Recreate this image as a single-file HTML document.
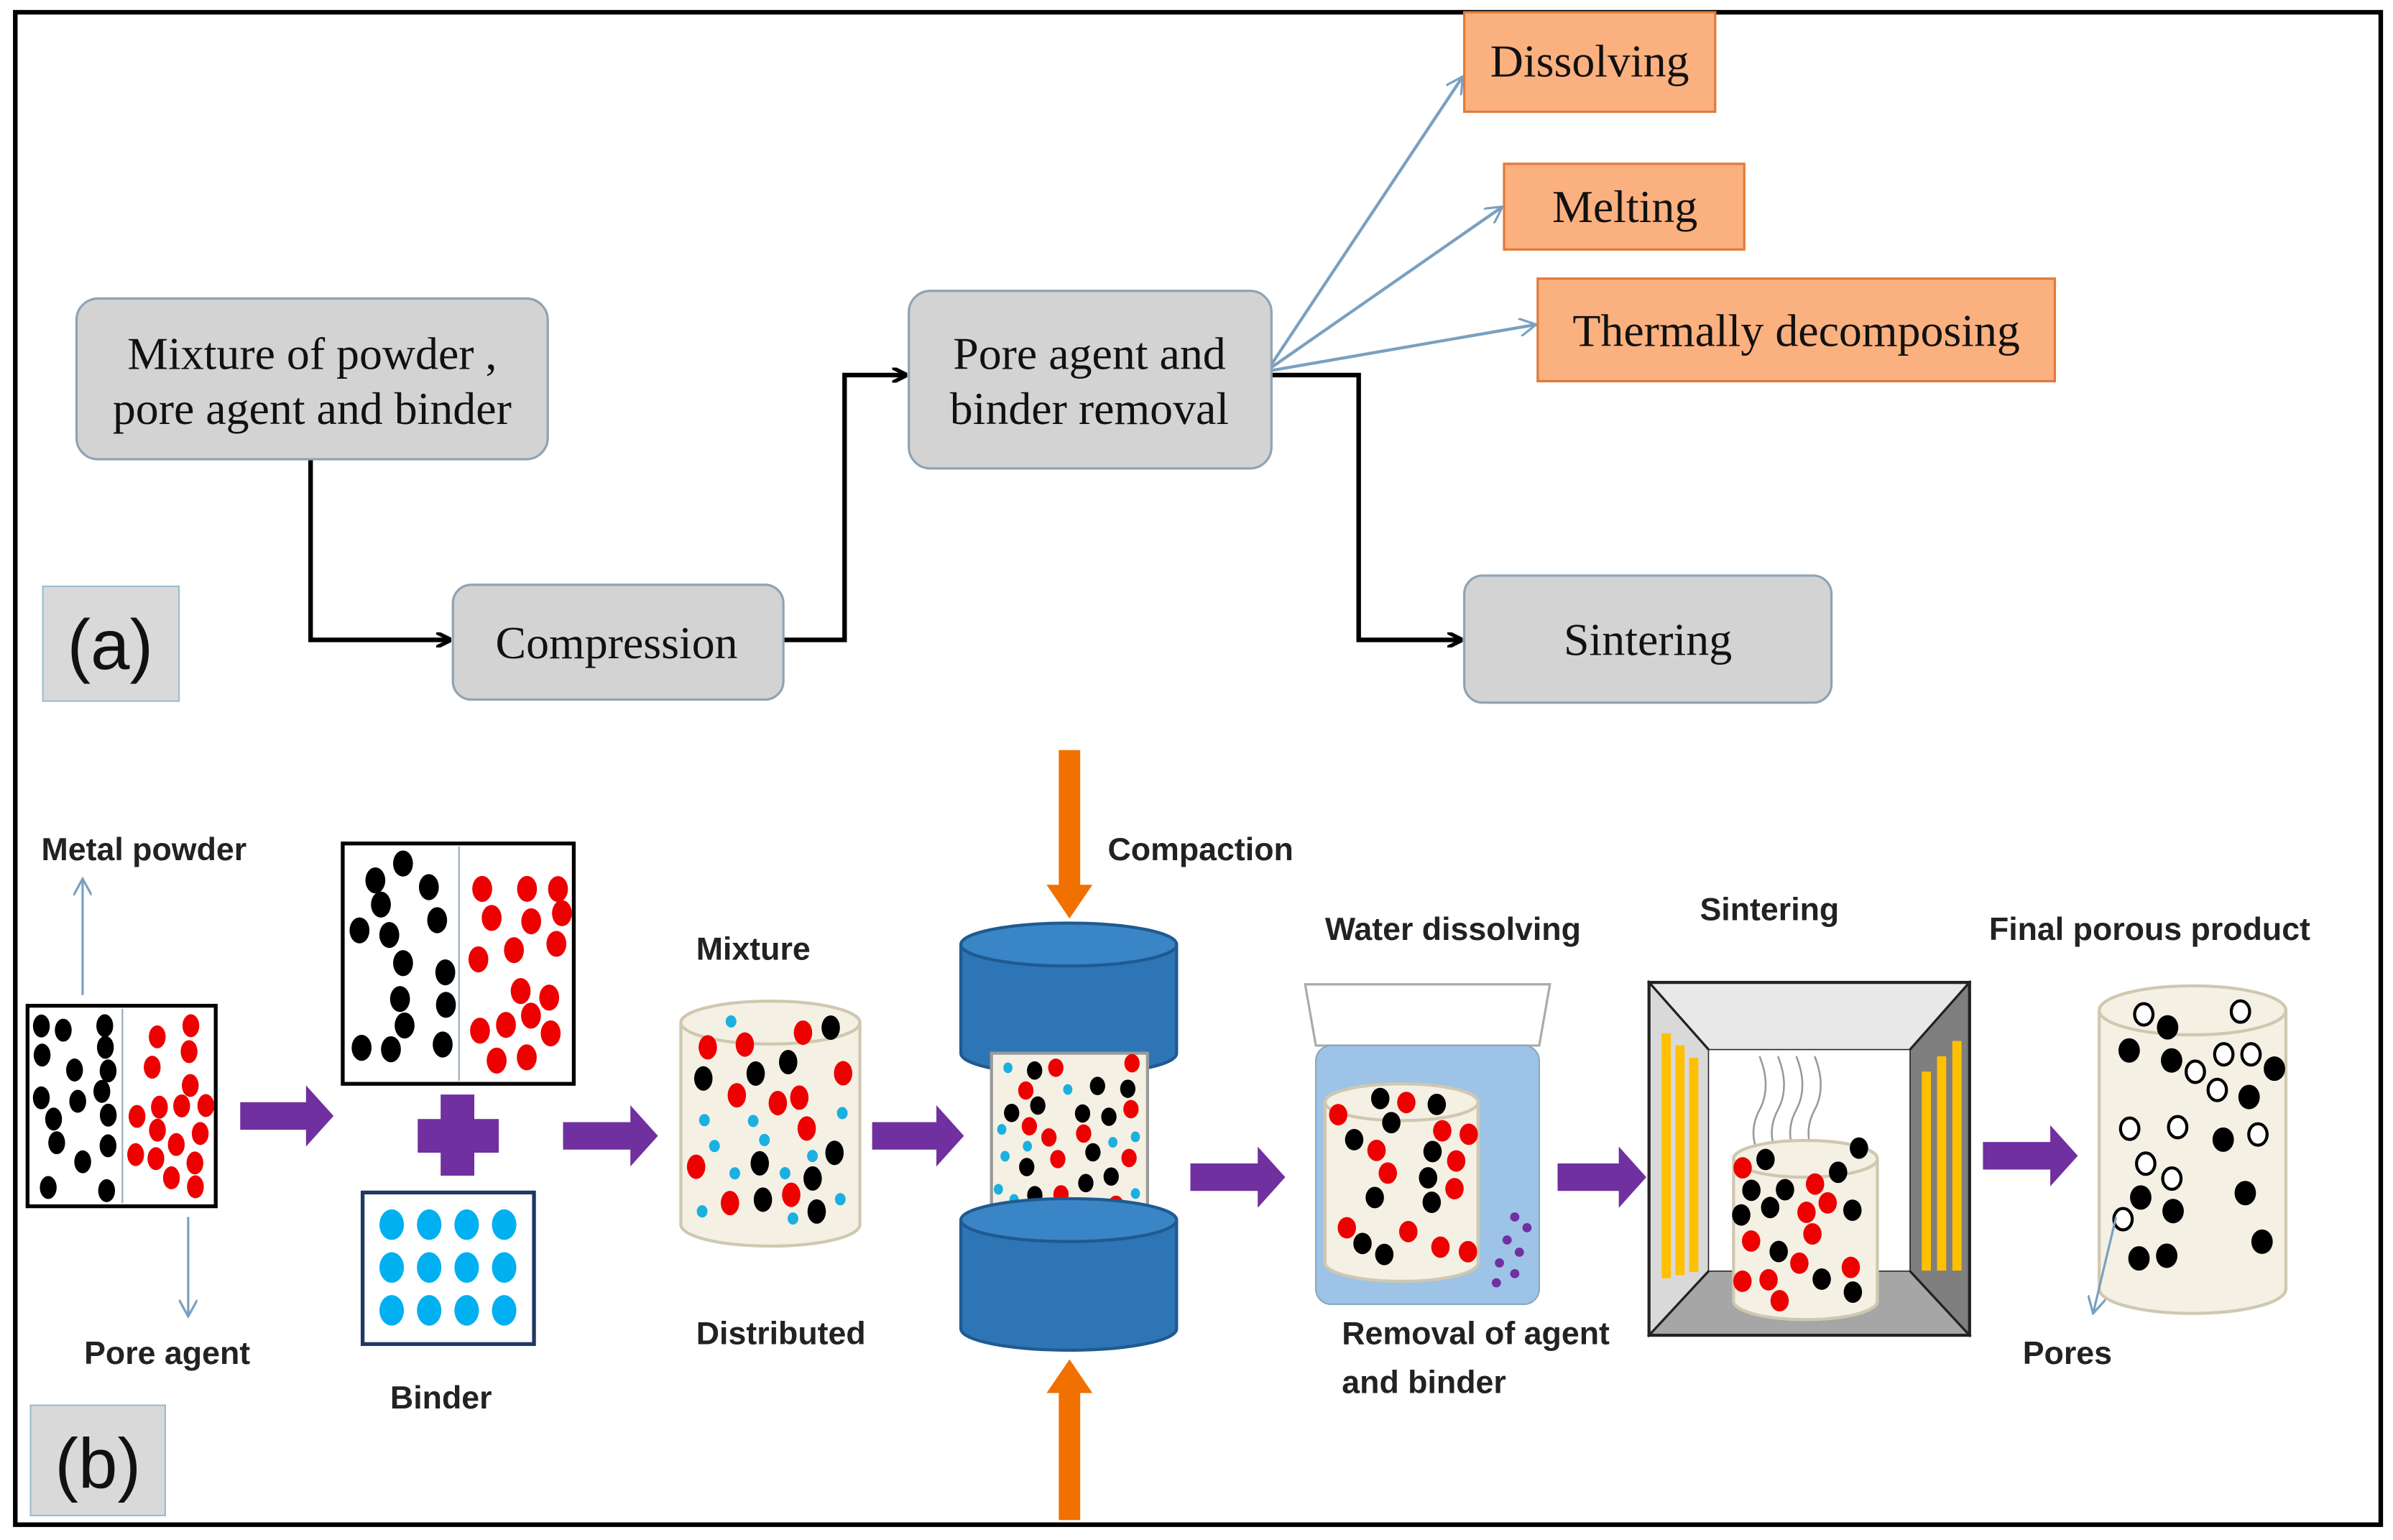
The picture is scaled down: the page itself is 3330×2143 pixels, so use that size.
<!DOCTYPE html>
<html><head><meta charset="utf-8"><style>
html,body{margin:0;padding:0;background:#fff}
svg{display:block}
.s{font-family:"Liberation Serif",serif;font-size:30px;fill:#111}
.b{font-family:"Liberation Sans",sans-serif;font-weight:bold;font-size:21px;fill:#222}
.l{font-family:"Liberation Sans",sans-serif;font-size:46px;fill:#111}
</style></head><body>
<svg id="sv" width="3330" height="2143" viewBox="0 0 1564 1006" preserveAspectRatio="none" xmlns="http://www.w3.org/2000/svg">
<defs>
<marker id="ab" markerWidth="10" markerHeight="10" refX="9" refY="5" orient="auto" markerUnits="userSpaceOnUse"><path d="M0,0 L10,5 L0,10" fill="none" stroke="#000" stroke-width="2.5"/></marker>
<marker id="bl" markerWidth="12" markerHeight="12" refX="11" refY="6" orient="auto" markerUnits="userSpaceOnUse"><path d="M0,0 L11,6 L0,12" fill="none" stroke="#7aa0c0" stroke-width="1.5"/></marker>
</defs>
<rect x="10" y="8" width="1546" height="988" fill="#fff" stroke="#000" stroke-width="3"/>
<g stroke="#000" stroke-width="3" fill="none">
<path d="M203,300 V418 H294" marker-end="url(#ab)"/>
<path d="M512,418 H552 V245 H592" marker-end="url(#ab)"/>
<path d="M831,245 H888 V418 H955" marker-end="url(#ab)"/>
</g>
<g stroke="#7aa0c0" stroke-width="2" fill="none">
<path d="M831,238 L956,50" marker-end="url(#bl)"/>
<path d="M831,240 L982,135" marker-end="url(#bl)"/>
<path d="M831,242 L1004,212" marker-end="url(#bl)"/>
</g>
<g fill="#d3d3d3" stroke="#8fa3b3" stroke-width="1.5">
<rect x="50" y="195" width="308" height="105" rx="14"/>
<rect x="296" y="382" width="216" height="75" rx="12"/>
<rect x="594" y="190" width="237" height="116" rx="14"/>
<rect x="957" y="376" width="240" height="83" rx="12"/>
</g>
<g fill="#fbb07f" stroke="#e07a3a" stroke-width="1.5">
<rect x="957" y="8" width="164" height="65"/>
<rect x="983" y="107" width="157" height="56"/>
<rect x="1005" y="182" width="338" height="67"/>
</g>
<g class="s" text-anchor="middle">
<text x="204" y="241">Mixture of powder ,</text>
<text x="204" y="277">pore agent and binder</text>
<text x="403" y="430">Compression</text>
<text x="712" y="241">Pore agent and</text>
<text x="712" y="277">binder removal</text>
<text x="1077" y="428">Sintering</text>
<text x="1039" y="50">Dissolving</text>
<text x="1062" y="145">Melting</text>
<text x="1174" y="226">Thermally decomposing</text>
</g>
<rect x="28" y="383" width="89" height="75" fill="#d9d9d9" stroke="#9bbccc"/>
<text class="l" x="72" y="437" text-anchor="middle">(a)</text>
<rect x="20" y="918" width="88" height="72" fill="#d9d9d9" stroke="#9bbccc"/>
<text class="l" x="64" y="972" text-anchor="middle">(b)</text>
<g id="art"></g>
<g class="b">
<text x="27" y="562">Metal powder</text>
<text x="55" y="891">Pore agent</text>
<text x="255" y="920">Binder</text>
<text x="455" y="627">Mixture</text>
<text x="455" y="878">Distributed</text>
<text x="724" y="562">Compaction</text>
<text x="866" y="614">Water dissolving</text>
<text x="877" y="878">Removal of agent</text>
<text x="877" y="910">and binder</text>
<text x="1111" y="601">Sintering</text>
<text x="1300" y="614">Final porous product</text>
<text x="1322" y="891">Pores</text>
</g>
</svg>
<script>
var NS="http://www.w3.org/2000/svg",g=document.getElementById("art");
function el(t,a){var e=document.createElementNS(NS,t);for(var k in a)e.setAttribute(k,a[k]);g.appendChild(e);return e;}
var seed=11;function rnd(){seed=(seed*16807)%2147483647;return seed/2147483647;}
function dots(x0,y0,x1,y1,list,rx,ry){var pts=[];list.forEach(function(c){for(var t=0;t<300;t++){var x=x0+rnd()*(x1-x0),y=y0+rnd()*(y1-y0),ok=true;for(var i=0;i<pts.length;i++){var dx=x-pts[i][0],dy=y-pts[i][1];if(dx*dx+dy*dy<(rx*2.4)*(rx*2.4)){ok=false;break;}}if(ok){pts.push([x,y]);var r=c[1]||rx;var a={cx:x,cy:y,rx:r,ry:(c[2]||ry),fill:c[0]};if(c[0]=="none"){a.stroke="#000";a["stroke-width"]=2;a.fill="#fff";}el("ellipse",a);break;}}});}
function rep(c,n){var a=[];for(var i=0;i<n;i++)a.push(c);return a;}
function parrow(x0,x1,y){el("path",{d:"M"+x0+","+(y-9)+"H"+(x1-18)+"V"+(y-20)+"L"+x1+","+y+"L"+(x1-18)+","+(y+20)+"V"+(y+9)+"H"+x0+"Z",fill:"#7030a0"});}
function cyl(x0,x1,yt,yb,ry,fill,stroke,top){var cx=(x0+x1)/2,rx=(x1-x0)/2;el("path",{d:"M"+x0+","+yt+"V"+yb+"A"+rx+","+ry+" 0 0 0 "+x1+","+yb+"V"+yt,fill:fill,stroke:stroke,"stroke-width":2});el("ellipse",{cx:cx,cy:yt,rx:rx,ry:ry,fill:top||fill,stroke:stroke,"stroke-width":2});}
el("rect",{x:18,y:657,width:123,height:131,fill:"#fff",stroke:"#000","stroke-width":2.5});
el("line",{x1:80,y1:659,x2:80,y2:786,stroke:"#9ab","stroke-width":1});
dots(27,668,73,778,rep(["#000"],17),5.5,7.5);dots(88,668,135,778,rep(["#e00"],17),5.5,7.5);
el("line",{x1:54,y1:650,x2:54,y2:574,stroke:"#7aa0c0","stroke-width":1.5,"marker-end":"url(#bl)"});
el("line",{x1:123,y1:795,x2:123,y2:860,stroke:"#7aa0c0","stroke-width":1.5,"marker-end":"url(#bl)"});
el("rect",{x:224,y:551,width:151,height:157,fill:"#fff",stroke:"#000","stroke-width":2.5});
el("line",{x1:300,y1:553,x2:300,y2:706,stroke:"#9ab","stroke-width":1});
dots(234,564,292,698,rep(["#000"],15),6.5,8.5);dots(307,564,368,698,rep(["#e00"],17),6.5,8.5);
el("rect",{x:288,y:715,width:22,height:53,fill:"#7030a0"});el("rect",{x:273,y:731,width:53,height:22,fill:"#7030a0"});
el("rect",{x:237,y:779,width:112,height:99,fill:"#fff",stroke:"#1f3864","stroke-width":2.5});
for(var r=0;r<3;r++)for(var c=0;c<4;c++)el("ellipse",{cx:256+c*24.5,cy:800+r*28,rx:8,ry:10,fill:"#00b0f0"});
parrow(157,218,729);parrow(368,430,742);parrow(570,630,742);parrow(778,840,769);parrow(1018,1076,769);parrow(1296,1358,755);
cyl(445,562,668,800,14,"#f4f0e4","#cfc8b0");
dots(452,665,555,800,rep(["#000",6,8],9).concat(rep(["#e00",6,8],11)).concat(rep(["#1ab0e0",3.5,4],12)),6,8);
function bcyl(yt,yb){cyl(628,769,yt,yb,14,"#2e75b6","#1f5a90","#3a85c6");}
bcyl(617,688);
el("rect",{x:648,y:688,width:102,height:109,fill:"#f4f0e4",stroke:"#999","stroke-width":2});
dots(652,694,746,792,rep(["#000",5,6],12).concat(rep(["#e00",5,6],12)).concat(rep(["#1ab0e0",3,3.5],10)),5,6);
bcyl(797,868);
el("path",{d:"M692,490H706V578H714L699,600L684,578H692Z",fill:"#f07000"});
el("path",{d:"M692,993H706V910H714L699,888L684,910H692Z",fill:"#f07000"});
el("path",{d:"M853,643H1013L1006,683H860Z",fill:"#fff",stroke:"#aaa","stroke-width":1.5});
el("rect",{x:860,y:683,width:146,height:169,rx:10,fill:"#9dc3e6",stroke:"#8ab","stroke-width":1});
cyl(866,966,720,825,12,"#f4f0e4","#cfc8b0");
dots(872,716,960,825,rep(["#000",6,7],10).concat(rep(["#e00",6,7],12)),6,7);
[[990,795],[998,802],[985,810],[993,818],[980,825],[990,832],[978,838]].forEach(function(p){el("circle",{cx:p[0],cy:p[1],r:3,fill:"#7030a0"});});
el("rect",{x:1078,y:642,width:209,height:230,fill:"#bfbfbf",stroke:"#222","stroke-width":2.5});
el("path",{d:"M1078,642L1117,686H1248L1287,642Z",fill:"#e8e8e8",stroke:"#222","stroke-width":1.5});
el("path",{d:"M1078,872L1117,830H1248L1287,872Z",fill:"#a6a6a6",stroke:"#222","stroke-width":1.5});
el("path",{d:"M1078,642L1117,686V830L1078,872Z",fill:"#d9d9d9",stroke:"#222","stroke-width":1.5});
el("path",{d:"M1287,642L1248,686V830L1287,872Z",fill:"#7f7f7f",stroke:"#222","stroke-width":1.5});
el("rect",{x:1117,y:686,width:131,height:144,fill:"#fff"});
[1086,1095,1104].forEach(function(x,i){el("rect",{x:x,y:675+i*8,width:6,height:160-i*10,fill:"#ffc000"});});
[1256,1266,1276].forEach(function(x,i){el("rect",{x:x,y:700-i*10,width:6,height:130+i*10,fill:"#ffc000"});});
[1150,1162,1174,1186].forEach(function(x){el("path",{d:"M"+x+",755 q-8,-15 0,-30 q8,-15 0,-35",fill:"none",stroke:"#999","stroke-width":1.2});});
cyl(1133,1227,757,850,12,"#f4f0e4","#cfc8b0");
dots(1138,750,1222,850,rep(["#000",6,7],11).concat(rep(["#e00",6,7],11)),6,7);
cyl(1372,1494,660,842,16,"#f4f0e4","#cfc8b0");
dots(1380,652,1488,835,rep(["#000",7,8],12).concat(rep(["none",6,7],12)),7,8);
el("line",{x1:1383,y1:795,x2:1368,y2:858,stroke:"#7aa0c0","stroke-width":1.5,"marker-end":"url(#bl)"});
</script>
</body></html>
